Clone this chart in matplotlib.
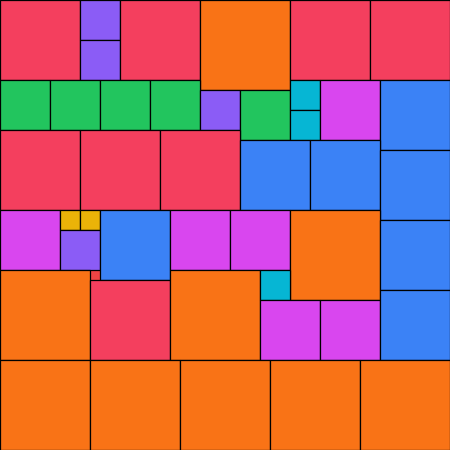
import matplotlib
matplotlib.use("Agg")
import matplotlib.pyplot as plt
from matplotlib.patches import Rectangle

# Square tiles: left x, top y, side length
xs = [0, 80, 80, 120, 200, 290, 370,
      0, 50, 100, 150, 200, 240, 290, 290, 320, 380,
      0, 80, 160, 240, 310, 380,
      0, 60, 80, 60, 100, 170, 230, 290, 380,
      0, 90, 170, 260, 260, 320, 380,
      0, 90, 180, 270, 360]
ys = [0, 0, 40, 0, 0, 0, 0,
      80, 80, 80, 80, 90, 90, 80, 110, 80, 80,
      130, 130, 130, 140, 140, 150,
      210, 210, 210, 230, 210, 210, 210, 210, 220,
      270, 280, 270, 270, 300, 300, 290,
      360, 360, 360, 360, 360]
sizes = [80, 40, 40, 80, 90, 80, 80,
         50, 50, 50, 50, 40, 50, 30, 30, 60, 70,
         80, 80, 80, 70, 70, 70,
         60, 20, 20, 40, 70, 60, 60, 90, 70,
         90, 80, 90, 30, 60, 60, 70,
         90, 90, 90, 90, 90]

size_colors = {20: "#eab308", 30: "#06b6d4", 40: "#8b5cf6", 50: "#22c55e",
               60: "#d946ef", 70: "#3b82f6", 80: "#f43f5e", 90: "#f97316"}

fig = plt.figure(figsize=(4.5, 4.5), dpi=100, facecolor="#ef4444")
ax = fig.add_axes([0, 0, 1, 1])
ax.set_facecolor("#ef4444")
for x, y, s in zip(xs, ys, sizes):
    ax.add_patch(Rectangle((x, y), s, s, facecolor=size_colors[s],
                           edgecolor="black", linewidth=0.9))
ax.set_xlim(0, 450)
ax.set_ylim(450, 0)
ax.axis("off")
fig.savefig("out.png", dpi=100, facecolor="#ef4444")
